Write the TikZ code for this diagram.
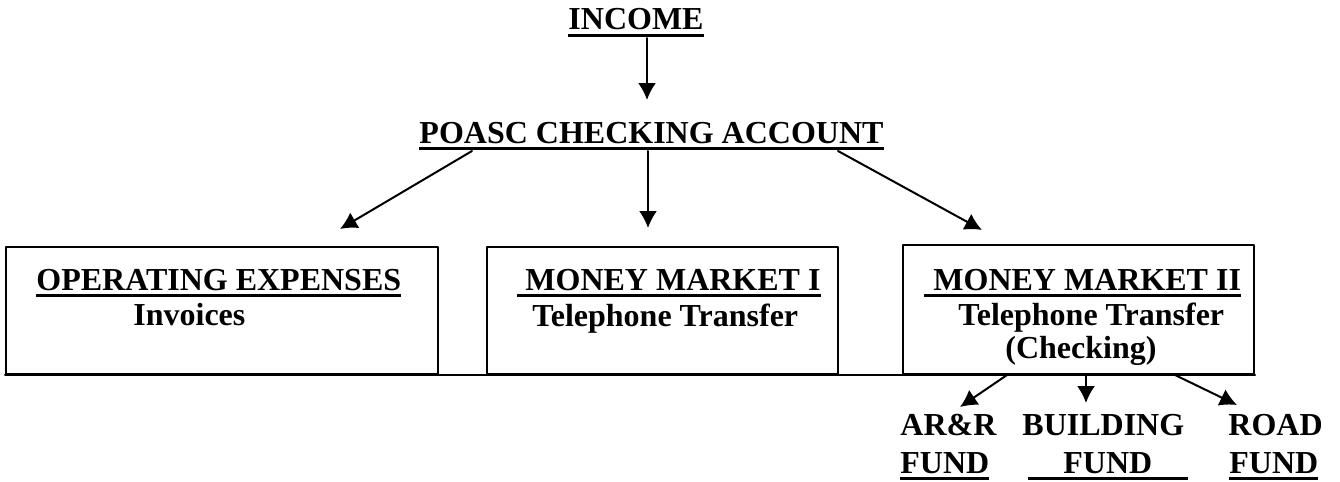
\documentclass[tikz,border=0pt]{standalone}
\usepackage{fontspec}
\setmainfont{Liberation Serif}
\usetikzlibrary{arrows.meta,calc}
\newsavebox\ulbox
\newcommand{\ulbf}[1]{\sbox\ulbox{#1}\rlap{\rule[-3.3pt]{\wd\ulbox}{1.5pt}}\usebox\ulbox}

\begin{document}
\begin{tikzpicture}[x=0.5pt,y=-0.5pt,line cap=round,line join=round,
  lbl/.style={inner sep=0pt,anchor=base west,font=\bfseries\fontsize{16}{19}\selectfont},
  box/.style={draw,line width=1pt,inner sep=0pt,minimum width=175.5pt,minimum height=63.5pt},
  arr/.style={-{Latex[length=8.5pt,width=9pt]},line width=1pt}]
  \useasboundingbox (0,0) rectangle (1340,482);
  % top of the chart
  \node[lbl,anchor=base] (income) at (636,30) {\ulbf{INCOME}};
  \node[lbl,anchor=base] (poasc) at (651.5,143) {\ulbf{POASC CHECKING ACCOUNT}};
  % the three accounts
  \node[box,minimum width=216pt] (opex) at (222,310.5) {};
  \node[box] (mmone) at (662.5,310.5) {};
  \node[box,minimum height=64.5pt] (mmtwo) at (1078.5,309.5) {};
  \draw[line width=1pt] (opex.south west) -- (mmtwo.south east);
  \node[lbl] (opexTitle) at (36,290) {\ulbf{OPERATING EXPENSES}};
  \node[lbl] (opexSub) at (133,325) {Invoices};
  \node[lbl] (mmoneTitle) at (517,290) {\ulbf{\hspace{4pt}MONEY MARKET I}};
  \node[lbl] (mmoneSub) at (532,326) {Telephone Transfer};
  \node[lbl] (mmtwoTitle) at (924,290) {\ulbf{\hspace{4.5pt}MONEY MARKET II}};
  \node[lbl] (mmtwoSub) at (958,325) {Telephone Transfer};
  \node[lbl] (mmtwoNote) at (1005,358) {(Checking)};
  % funds below money market II
  \node[lbl] (arr) at (900,435) {AR\&R};\node[lbl] (arrFund) at (900,473) {\ulbf{FUND}};
  \node[lbl] (bldg) at (1022,435) {BUILDING};\node[lbl] (bldgFund) at (1028,473) {\ulbf{\hspace{17.5pt}FUND\hspace{18pt}}};
  \node[lbl] (road) at (1228,435) {ROAD};\node[lbl] (roadFund) at (1229,473) {\ulbf{FUND}};
  % arrow ends
  \coordinate (toPoasc) at (647,100);
  \coordinate (toOpex) at (340,229);\coordinate (toMmone) at (648,228);\coordinate (toMmtwo) at (982,230);
  \coordinate (toArr) at (960,407);\coordinate (toBldg) at (1086,403);\coordinate (toRoad) at (1237,405);
  \draw[arr] ($(income.south)+(11,1)$) -- (toPoasc);
  \draw[arr] ($(poasc.south)+(-179.5,1)$) -- (toOpex);
  \draw[arr] ($(poasc.south)+(-3.5,1)$) -- (toMmone);
  \draw[arr] ($(poasc.south)+(186.5,1)$) -- (toMmtwo);
  \draw[arr] ($(mmtwo.south)+(-71.5,0)$) -- (toArr);
  \draw[arr] ($(mmtwo.south)+(7.5,0)$) -- (toBldg);
  \draw[arr] ($(mmtwo.south)+(96.5,0)$) -- (toRoad);
\end{tikzpicture}
\end{document}
